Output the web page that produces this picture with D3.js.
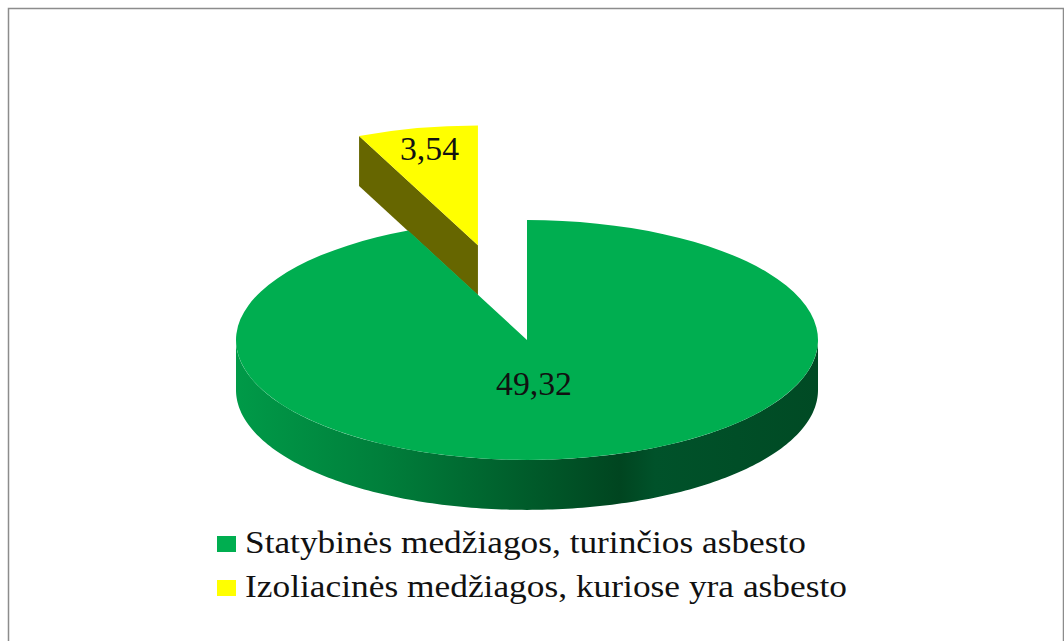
<!DOCTYPE html>
<html>
<head>
<meta charset="utf-8">
<script src="https://cdn.jsdelivr.net/npm/d3@7"></script>
<style>
  html, body { margin: 0; padding: 0; background: #fff; }
  svg { display: block; }
  text { font-family: "Liberation Serif", serif; fill: #111; }
</style>
</head>
<body>
<svg></svg>
<script>
const categories = ["Statybinės medžiagos, turinčios asbesto", "Izoliacinės medžiagos, kuriose yra asbesto"];
const values = [49.32, 3.54];
const valueLabels = ["49,32", "3,54"];
const colors = ["#00ae50", "#ffff00"];
const wallColors = [null, "#666600"];

const width = 1064;
const height = 641;
const cx = 527;
const cy = 340;
const radius = 291;
const tilt = 0.412;
const depth = 50;
const explode = [0, 235];

const svg = d3.select("svg").attr("width", width).attr("height", height);

// pie starts at 12 o'clock, clockwise, green first
const slices = d3.pie().sort(null)(values);
const arc = d3.arc().innerRadius(0).outerRadius(radius);

// angle is clockwise from 12 o'clock, same as d3.pie
const project = (angle, r, dy) => [
  r * Math.sin(angle),
  -r * Math.cos(angle) * tilt + dy,
];
const offset = (s, i) => {
  const mid = (s.startAngle + s.endAngle) / 2;
  return project(mid, explode[i], 0);
};

const defs = svg.append("defs");
// the rim is drawn inside a translated group, so the gradient runs around 0
const wallGrad = defs
  .append("linearGradient")
  .attr("id", "wall")
  .attr("gradientUnits", "userSpaceOnUse")
  .attr("x1", -radius)
  .attr("x2", radius)
  .attr("y1", 0)
  .attr("y2", 0);
[
  [0, "#009a48"],
  [0.25, "#007f3b"],
  [0.66, "#004520"],
  [0.72, "#00522a"],
  [1, "#004a24"],
].forEach((d) => {
  wallGrad.append("stop").attr("offset", d[0]).attr("stop-color", d[1]);
});

// frame, open at the bottom
svg
  .append("path")
  .attr("d", `M8.5,${height}V8.5H1063.5V${height}`)
  .attr("fill", "none")
  .attr("stroke", "#8c8c8c")
  .attr("stroke-width", 1.5);

// yellow slice goes first, green covers the foot of its wall
const drawOrder = [1, 0];
const line = d3.line();

drawOrder.forEach((i) => {
  const s = slices[i];
  const [ox, oy] = offset(s, i);
  const g = svg.append("g").attr("transform", `translate(${cx + ox},${cy + oy})`);

  if (i === 0) {
    // front rim of the big slice
    const angles = d3.range(90, 270.5, 1).map((a) => (a * Math.PI) / 180);
    const pts = angles
      .map((a) => project(a, radius, 0))
      .concat(angles.slice().reverse().map((a) => project(a, radius, depth)));
    g.append("path").attr("d", line(pts) + "Z").attr("fill", "url(#wall)");
  } else {
    // cut side of the small slice, facing the viewer on the left
    const a = s.startAngle;
    const pts = [
      project(a, 0, 0),
      project(a, radius, 0),
      project(a, radius, depth),
      project(a, 0, depth),
    ];
    g.append("path").attr("d", line(pts) + "Z").attr("fill", wallColors[i]);
  }

  g.append("path")
    .attr("transform", `scale(1,${tilt})`)
    .attr("d", arc(s))
    .attr("fill", colors[i]);
});

// value labels
const labelPos = [
  { x: 534, y: 395, w: 76 },
  { x: 429.5, y: 160, w: 59 },
];
valueLabels.forEach((t, i) => {
  svg
    .append("text")
    .attr("x", labelPos[i].x)
    .attr("y", labelPos[i].y)
    .attr("text-anchor", "middle")
    .attr("font-size", 33)
    .attr("textLength", labelPos[i].w)
    .attr("lengthAdjust", "spacingAndGlyphs")
    .text(t);
});

// legend
const legendY = d3.scalePoint().domain(categories).range([544, 588]);
const legendW = [561, 602];
const legend = svg
  .selectAll("g.legend")
  .data(categories)
  .enter()
  .append("g")
  .attr("class", "legend")
  .attr("transform", (d) => `translate(217,${legendY(d)})`);
legend
  .append("rect")
  .attr("y", -8)
  .attr("width", 19)
  .attr("height", 16)
  .attr("fill", (d, i) => colors[i]);
legend
  .append("text")
  .attr("x", 28)
  .attr("y", 9)
  .attr("font-size", 31)
  .attr("textLength", (d, i) => legendW[i])
  .attr("lengthAdjust", "spacingAndGlyphs")
  .text((d) => d);
</script>
</body>
</html>
